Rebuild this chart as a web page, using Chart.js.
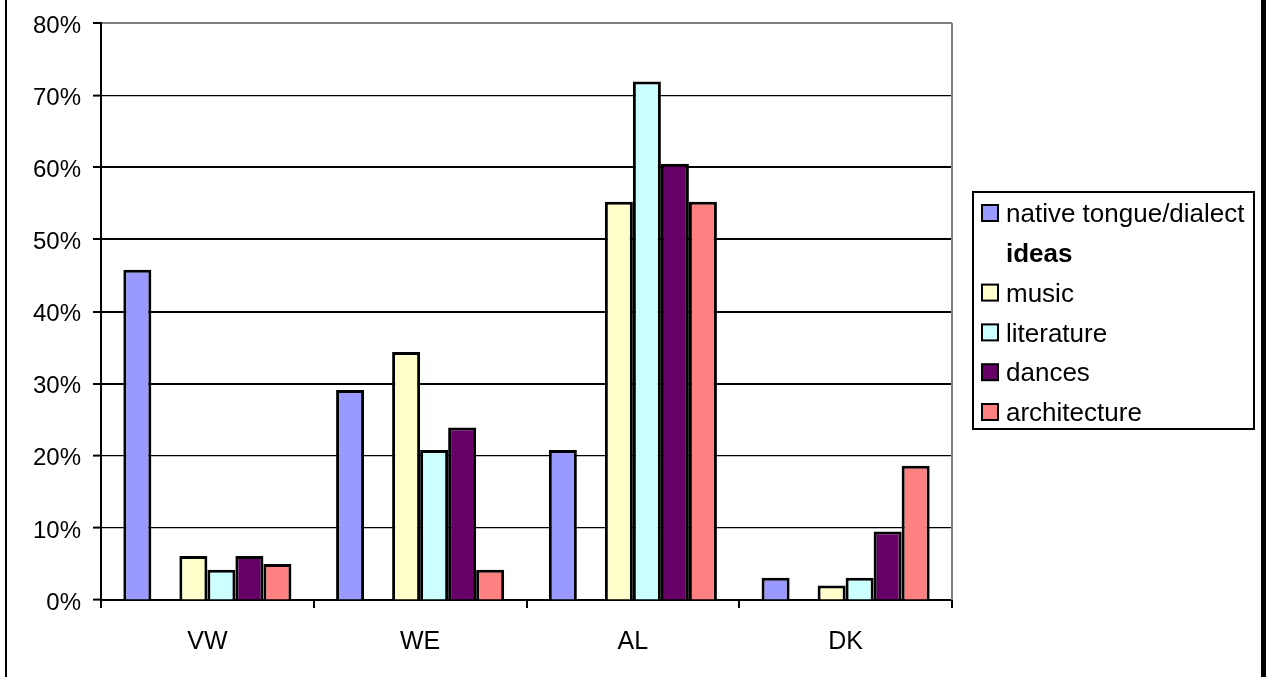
<!DOCTYPE html>
<html>
<head>
<meta charset="utf-8">
<script src="https://cdn.jsdelivr.net/npm/chart.js@4.4.1/dist/chart.umd.min.js"></script>
<style>
  html, body { margin: 0; padding: 0; background: #fff; }
  #wrap { position: relative; width: 1266px; height: 677px; }
</style>
</head>
<body>
<div id="wrap"><canvas id="chart" width="1266" height="677"></canvas></div>
<script>
// categories and series values (percent)
const categories = ['VW', 'WE', 'AL', 'DK'];
const nativeTongue = [45.8, 29.1, 20.8, 3.1];
const ideas = [null, null, null, null];
const music = [6.1, 34.4, 55.2, 2.0];
const literature = [4.2, 20.8, 71.9, 3.1];
const dances = [6.1, 23.9, 60.5, 9.5];
const architecture = [5.0, 4.2, 55.2, 18.6];
const yTicks = [0, 10, 20, 30, 40, 50, 60, 70, 80];

const FONT = '"Liberation Sans", Arial, sans-serif';

function series(label, data, color) {
  return {
    label: label,
    data: data,
    backgroundColor: color,
    borderColor: '#000',
    borderWidth: 3,
    borderSkipped: 'bottom',
    categoryPercentage: 0.79,
    barPercentage: 1.0
  };
}

// excel-ish frame: side rules, grey plot border and boxed legend
const framePlugin = {
  id: 'frame',
  beforeDraw(chart) {
    const ctx = chart.ctx;
    ctx.save();
    ctx.fillStyle = '#fff';
    ctx.fillRect(0, 0, chart.width, chart.height);
    ctx.fillStyle = '#000';
    ctx.fillRect(5, 0, 2, chart.height);
    ctx.fillRect(1261, 0, 5, chart.height);
    ctx.restore();
  },
  afterDraw(chart) {
    const ctx = chart.ctx;
    const a = chart.chartArea;
    ctx.save();
    // right border of plot area
    ctx.strokeStyle = '#808080';
    ctx.lineWidth = 2;
    ctx.beginPath();
    ctx.moveTo(a.right, a.top);
    ctx.lineTo(a.right, a.bottom);
    ctx.stroke();

    // legend
    const bx = 973, by = 192, bw = 281, bh = 237;
    ctx.strokeStyle = '#000';
    ctx.lineWidth = 2;
    ctx.strokeRect(bx, by, bw, bh);
    const step = 39.8;
    chart.data.datasets.forEach((ds, i) => {
      const cy = 213 + i * step;
      const hasBars = ds.data.some(v => v !== null);
      if (hasBars) {
        ctx.fillStyle = ds.backgroundColor;
        ctx.fillRect(982, cy - 8, 16, 16);
        ctx.lineWidth = 2;
        ctx.strokeStyle = '#000';
        ctx.strokeRect(982, cy - 8, 16, 16);
      }
      ctx.fillStyle = '#000';
      ctx.font = (hasBars ? '' : 'bold ') + '26px ' + FONT;
      ctx.textBaseline = 'middle';
      ctx.textAlign = 'left';
      ctx.fillText(ds.label, 1006, cy + 2);
    });
    ctx.restore();
  }
};

new Chart(document.getElementById('chart'), {
  type: 'bar',
  data: {
    labels: categories,
    datasets: [
      series('native tongue/dialect', nativeTongue, '#9999FF'),
      series('ideas', ideas, 'rgba(0,0,0,0)'),
      series('music', music, '#FFFFCC'),
      series('literature', literature, '#CCFFFF'),
      series('dances', dances, '#660066'),
      series('architecture', architecture, '#FF8080')
    ]
  },
  options: {
    responsive: false,
    animation: false,
    layout: { padding: { left: 0, top: 23, right: 314, bottom: 0 } },
    plugins: {
      legend: { display: false },
      tooltip: { enabled: false }
    },
    scales: {
      x: {
        offset: true,
        grid: {
          offset: true,
          drawOnChartArea: false,
          drawTicks: true,
          tickLength: 8,
          color: '#000',
          lineWidth: 2
        },
        border: { display: true, color: '#000', width: 2 },
        ticks: {
          color: '#000',
          font: { family: FONT, size: 25 },
          padding: 19,
          maxRotation: 0
        },
        afterFit(scale) {
          scale.height = 77;
          scale.paddingLeft = 0;
          scale.paddingRight = 0;
        }
      },
      y: {
        min: 0,
        max: 80,
        afterBuildTicks(scale) {
          scale.ticks = yTicks.map(v => ({ value: v }));
        },
        grid: {
          color: ctx => (ctx.tick && ctx.tick.value === 80 ? '#808080' : '#000'),
          lineWidth: ctx => {
            const v = ctx.tick ? ctx.tick.value : 0;
            return (v >= 30 && v <= 60) || v === 80 ? 2 : 1.2;
          },
          tickLength: 8,
          drawTicks: true,
          tickColor: '#000',
          tickWidth: 2
        },
        border: { display: true, color: '#000', width: 2 },
        ticks: {
          color: '#000',
          font: { family: FONT, size: 24 },
          padding: 12,
          labelOffset: 3,
          callback: v => v + '%'
        },
        afterFit(scale) {
          scale.width = 101;
          scale.paddingTop = 0;
          scale.paddingBottom = 0;
        }
      }
    }
  },
  plugins: [framePlugin]
});
</script>
</body>
</html>
